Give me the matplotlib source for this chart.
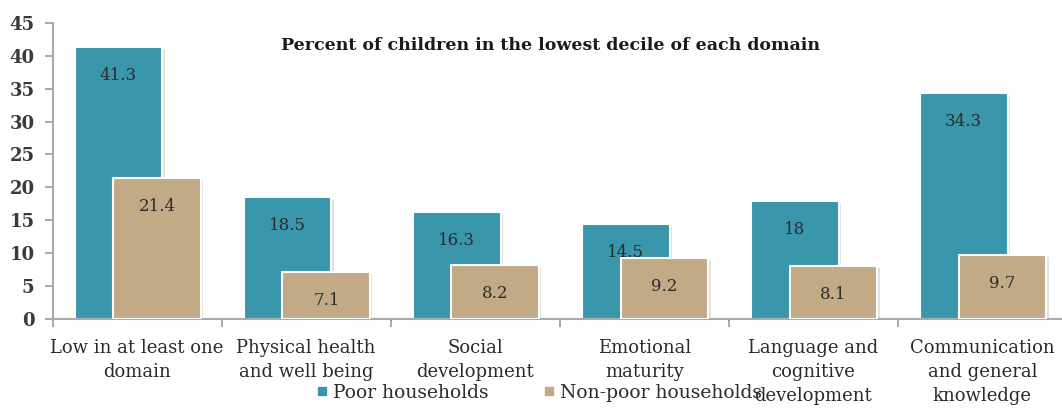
import matplotlib
matplotlib.use("Agg")
import matplotlib.pyplot as plt
import matplotlib.patheffects as pe
from matplotlib.lines import Line2D
import numpy as np

categories = [
    "Low in at least one\ndomain",
    "Physical health\nand well being",
    "Social\ndevelopment",
    "Emotional\nmaturity",
    "Language and\ncognitive\ndevelopment",
    "Communication\nand general\nknowledge",
]
poor = [41.3, 18.5, 16.3, 14.5, 18, 34.3]
non_poor = [21.4, 7.1, 8.2, 9.2, 8.1, 9.7]
series_names = ["Poor households", "Non-poor households"]
yticks = [0, 5, 10, 15, 20, 25, 30, 35, 40, 45]
title = "Percent of children in the lowest decile of each domain"

teal = "#3a96ab"
tan = "#c3aa86"
text_col = "#2b2b2b"
serif = ["DejaVu Serif"]

plt.rcParams["font.family"] = serif

fig = plt.figure(figsize=(10.62, 4.08), dpi=100)
ax = fig.add_axes([0.0495, 0.218, 0.955, 0.726])

x = np.arange(len(categories))
width = 0.52
shadow = [pe.SimplePatchShadow(offset=(1.5, -1.5), shadow_rgbFace="#777777", alpha=0.22), pe.Normal()]

b1 = ax.bar(x - 0.11, poor, width, color=teal, edgecolor="white", linewidth=1.5, zorder=2)
b2 = ax.bar(x + 0.12, non_poor, width, color=tan, edgecolor="white", linewidth=1.5, zorder=3)
for bars in (b1, b2):
    for p in bars:
        p.set_path_effects(shadow)

for bars, vals in ((b1, poor), (b2, non_poor)):
    for p, v in zip(bars, vals):
        ax.annotate(f"{v:g}", (p.get_x() + p.get_width() / 2, v),
                    xytext=(0, -20.5), textcoords="offset points",
                    ha="center", va="center", fontsize=12, color=text_col, zorder=5)

ax.set_xlim(-0.5, len(categories) - 0.5)
ax.set_ylim(0, 45)
ax.set_yticks(yticks)
ax.set_yticklabels([str(t) for t in yticks], fontsize=13, fontweight="bold", color="#3a3a3a")

ax.set_xticks(x)
ax.set_xticklabels(categories, fontsize=13, color=text_col, linespacing=1.45, va="top")
ax.tick_params(axis="x", length=0, pad=14)
ax.set_xticks(np.arange(-0.5, len(categories), 1.0), minor=True)
ax.tick_params(axis="x", which="minor", length=6, color="#999999", width=1.2)
ax.tick_params(axis="y", length=6, color="#999999", width=1.2, pad=7)

for s in ("top", "right"):
    ax.spines[s].set_visible(False)
for s in ("left", "bottom"):
    ax.spines[s].set_color("#aaaaaa")
    ax.spines[s].set_linewidth(1.5)

fig.text(0.518, 0.888, title, ha="center", va="center", fontsize=12.5,
         fontweight="bold", color="#1a1a1a")

handles = [Line2D([], [], marker="s", linestyle="none", markersize=6, color=teal),
           Line2D([], [], marker="s", linestyle="none", markersize=6, color=tan)]
fig.legend(handles, series_names, loc="center", bbox_to_anchor=(0.508, 0.037), ncol=2,
           frameon=False, fontsize=13.5, handlelength=0.6, handletextpad=0.3,
           columnspacing=2.9, labelcolor=text_col)

fig.savefig("out.png", dpi=100)
